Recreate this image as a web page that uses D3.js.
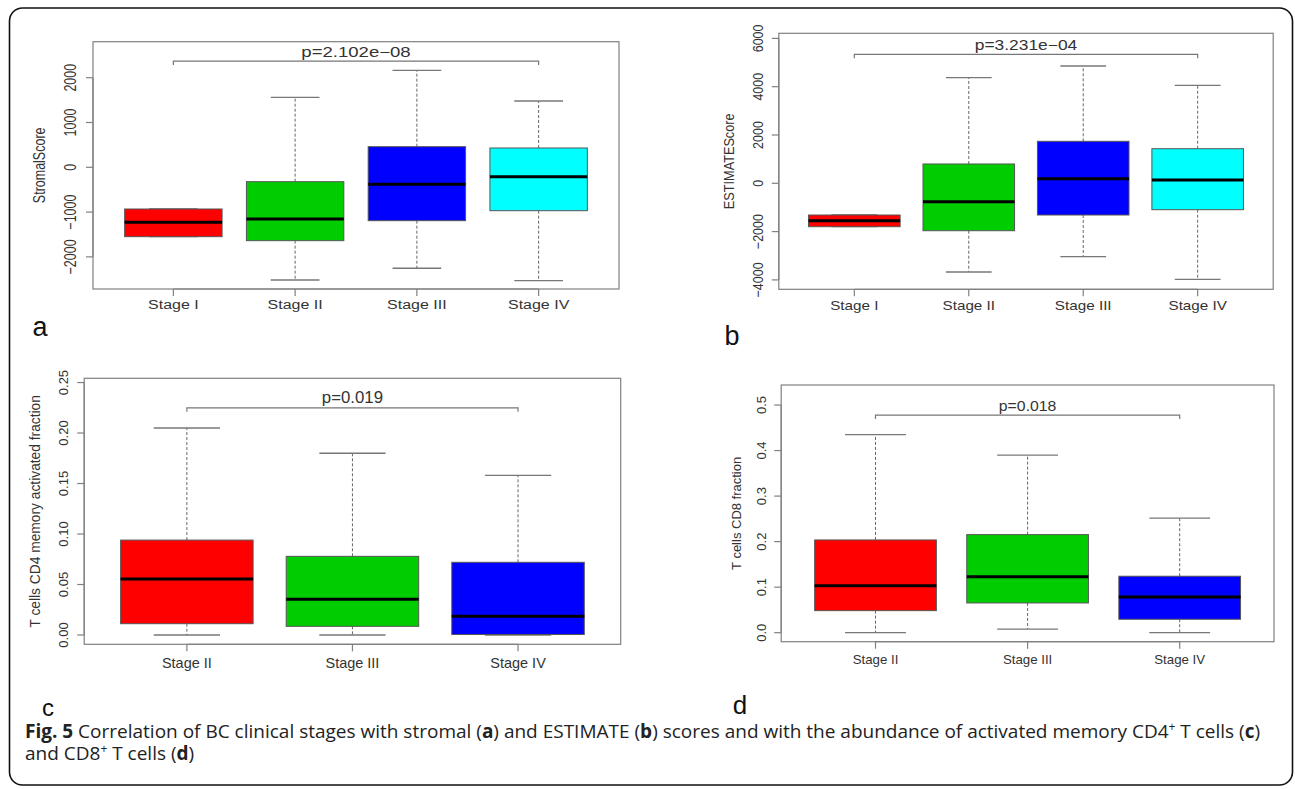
<!DOCTYPE html>
<html>
<head>
<meta charset="utf-8">
<script src="https://cdn.jsdelivr.net/npm/d3@7"></script>
<style>
  html, body { margin: 0; padding: 0; background: #fff; }
  svg { display: block; }
</style>
</head>
<body>
<script>
// ---------------- DATA ----------------
const stagesAB = ["Stage I", "Stage II", "Stage III", "Stage IV"];
const stagesCD = ["Stage II", "Stage III", "Stage IV"];

// [lower whisker, Q1, median, Q3, upper whisker]
const stromalStats = [
  [-1549, -1549, -1228, -931, -931],
  [-2516, -1638, -1154, -321, 1562],
  [-2254, -1192, -379, 460, 2165],
  [-2531, -969, -210, 431, 1480]
];
const estimateStats = [
  [-1797, -1797, -1548, -1313, -1313],
  [-3673, -1963, -762, 800, 4373],
  [-3039, -1313, 190, 1739, 4857],
  [-3975, -1093, 137, 1433, 4058]
];
const cd4Stats = [
  [0, 0.0112, 0.0554, 0.094, 0.205],
  [0, 0.0086, 0.0353, 0.0779, 0.180],
  [0, 0.0005, 0.0185, 0.072, 0.158]
];
const cd8Stats = [
  [0, 0.0484, 0.1033, 0.2037, 0.435],
  [0.008, 0.0653, 0.123, 0.2154, 0.390],
  [0, 0.0295, 0.0785, 0.124, 0.2515]
];

const stromalTicks = [-2000, -1000, 0, 1000, 2000];
const estimateTicks = [-4000, -2000, 0, 2000, 4000, 6000];
const cd4Ticks = [0, 0.05, 0.10, 0.15, 0.20, 0.25];
const cd8Ticks = [0, 0.1, 0.2, 0.3, 0.4, 0.5];

const yTitles = ["StromalScore", "ESTIMATEScore", "T cells CD4 memory activated fraction", "T cells CD8 fraction"];
const pLabels = ["p=2.102e\u221208", "p=3.231e\u221204", "p=0.019", "p=0.018"];
const pBarLevels = [2372, 5342, 0.225, 0.478];
const panelLetters = ["a", "b", "c", "d"];

const colors4 = ["#ff0000", "#00cd00", "#0000ff", "#00ffff"];
const colors3 = ["#ff0000", "#00cd00", "#0000ff"];

// ---------------- LAYOUT ----------------
const W = 1295, H = 789;
const font = "'Liberation Sans', Arial, Helvetica, sans-serif";

const panels = [
  { cats: stagesAB, stats: stromalStats, ticks: stromalTicks, fmt: d => d3.format("d")(d).replace("-", "\u2212"),
    colors: colors4, left: 93, right: 619, top: 41.7, bottom: 289, yDom: [-2717, 2804],
    sx: 1.28, fs: 12.5, tfs: 12.5, pfs: 14.5, tickLabX: 70.5, titleX: 39.4, xLabY: 305,
    letter: { x: 40, y: 336, fs: 27 } },
  { cats: stagesAB, stats: estimateStats, ticks: estimateTicks, fmt: d => d3.format("d")(d).replace("-", "\u2212"),
    colors: colors4, left: 778.8, right: 1273.2, top: 33.3, bottom: 289.3, yDom: [-4389, 6211],
    sx: 1.2, fs: 12.7, tfs: 12.5, pfs: 14.5, tickLabX: 758.2, titleX: 728.2, xLabY: 305,
    letter: { x: 732, y: 345, fs: 27 } },
  { cats: stagesCD, stats: cd4Stats, ticks: cd4Ticks, fmt: d3.format(".2f"),
    colors: colors3, left: 84.2, right: 620.7, top: 378.3, bottom: 644.3, yDom: [-0.0092, 0.2542],
    sx: 1.05, fs: 13.8, tfs: 13, pfs: 16, tickLabX: 63, titleX: 35.3, xLabY: 662.7,
    letter: { x: 48, y: 716, fs: 24 } },
  { cats: stagesCD, stats: cd8Stats, ticks: cd8Ticks, fmt: d3.format(".1f"),
    colors: colors3, left: 781.2, right: 1274, top: 385, bottom: 641.7, yDom: [-0.0198, 0.544],
    sx: 1.02, fs: 13, tfs: 13, pfs: 15.5, tickLabX: 761, titleX: 736.4, xLabY: 659.3,
    letter: { x: 740, y: 714, fs: 26 } }
];

const svg = d3.select("body").append("svg")
  .attr("width", W).attr("height", H)
  .attr("viewBox", `0 0 ${W} ${H}`);

svg.append("rect").attr("width", W).attr("height", H).attr("fill", "#fff");

// outer rounded frame
svg.append("rect")
  .attr("x", 9.5).attr("y", 8).attr("width", 1283).attr("height", 777)
  .attr("rx", 13).attr("ry", 13)
  .attr("fill", "none").attr("stroke", "#111").attr("stroke-width", 1.6);

const frameCol = "#808080";
const textCol = "#333";

panels.forEach((p, i) => {
  const g = svg.append("g");
  const n = p.cats.length;
  const x = d3.scaleLinear().domain([0.5 - 0.04 * n, n + 0.5 + 0.04 * n]).range([p.left, p.right]);
  const y = d3.scaleLinear().domain(p.yDom).range([p.bottom, p.top]);
  const pos = d3.range(1, n + 1);

  // plot frame
  g.append("rect")
    .attr("x", p.left).attr("y", p.top)
    .attr("width", p.right - p.left).attr("height", p.bottom - p.top)
    .attr("fill", "none").attr("stroke", frameCol).attr("stroke-width", 1.2);

  // y axis ticks
  const yAxisG = g.append("g");
  yAxisG.append("line")
    .attr("x1", p.left).attr("x2", p.left)
    .attr("y1", y(d3.min(p.ticks))).attr("y2", y(d3.max(p.ticks)))
    .attr("stroke", frameCol).attr("stroke-width", 1.2);
  yAxisG.selectAll("line.tk").data(p.ticks).join("line").attr("class", "tk")
    .attr("x1", p.left).attr("x2", p.left - 7)
    .attr("y1", d => y(d)).attr("y2", d => y(d))
    .attr("stroke", frameCol).attr("stroke-width", 1.2);
  yAxisG.selectAll("text").data(p.ticks).join("text")
    .attr("transform", d => `translate(${p.tickLabX},${y(d)}) scale(${p.sx},1) rotate(-90)`)
    .attr("text-anchor", "middle").attr("dominant-baseline", "central")
    .attr("font-family", font).attr("font-size", p.tfs).attr("fill", textCol)
    .text(d => p.fmt(d));

  // y title
  g.append("text")
    .attr("transform", `translate(${p.titleX},${(p.top + p.bottom) / 2}) scale(${p.sx},1) rotate(-90)`)
    .attr("text-anchor", "middle").attr("dominant-baseline", "central")
    .attr("font-family", font).attr("font-size", p.fs).attr("fill", textCol)
    .text(yTitles[i]);

  // x axis ticks + labels
  g.append("line")
    .attr("x1", x(1)).attr("x2", x(n))
    .attr("y1", p.bottom).attr("y2", p.bottom)
    .attr("stroke", frameCol).attr("stroke-width", 1.2);
  g.selectAll("line.xt").data(pos).join("line").attr("class", "xt")
    .attr("x1", d => x(d)).attr("x2", d => x(d))
    .attr("y1", p.bottom).attr("y2", p.bottom + 7)
    .attr("stroke", frameCol).attr("stroke-width", 1.2);
  g.selectAll("text.xl").data(p.cats).join("text").attr("class", "xl")
    .attr("transform", (d, j) => `translate(${x(j + 1)},${p.xLabY}) scale(${p.sx},1)`)
    .attr("text-anchor", "middle").attr("dominant-baseline", "central")
    .attr("font-family", font).attr("font-size", p.fs).attr("fill", textCol)
    .text(d => d);

  // boxes
  p.stats.forEach((s, j) => {
    const cx = x(j + 1);
    const bw = x(1.4) - x(1);
    const sw = x(1.2) - x(1);
    const [lo, q1, med, q3, hi] = s;
    g.append("line").attr("x1", cx).attr("x2", cx).attr("y1", y(q3)).attr("y2", y(hi))
      .attr("stroke", "#666").attr("stroke-width", 1).attr("stroke-dasharray", "3,2");
    g.append("line").attr("x1", cx).attr("x2", cx).attr("y1", y(q1)).attr("y2", y(lo))
      .attr("stroke", "#666").attr("stroke-width", 1).attr("stroke-dasharray", "3,2");
    [lo, hi].forEach(v => {
      g.append("line").attr("x1", cx - sw).attr("x2", cx + sw).attr("y1", y(v)).attr("y2", y(v))
        .attr("stroke", "#777").attr("stroke-width", 1.3);
    });
    g.append("rect")
      .attr("x", cx - bw).attr("y", y(q3))
      .attr("width", 2 * bw).attr("height", y(q1) - y(q3))
      .attr("fill", p.colors[j]).attr("stroke", "#555").attr("stroke-width", 1);
    g.append("line").attr("x1", cx - bw).attr("x2", cx + bw).attr("y1", y(med)).attr("y2", y(med))
      .attr("stroke", "#000").attr("stroke-width", 3);
  });

  // p-value bracket
  const by = y(pBarLevels[i]);
  const x1 = x(1), x2 = x(n);
  g.append("path")
    .attr("d", `M${x1},${by + 4}V${by}H${x2}V${by + 4}`)
    .attr("fill", "none").attr("stroke", "#777").attr("stroke-width", 1.2);
  g.append("text")
    .attr("transform", `translate(${(x1 + x2) / 2},${by - 4.5}) scale(${p.sx},1)`)
    .attr("text-anchor", "middle")
    .attr("font-family", font).attr("font-size", p.pfs).attr("fill", textCol)
    .text(pLabels[i]);

  // panel letter
  svg.append("text")
    .attr("x", p.letter.x).attr("y", p.letter.y)
    .attr("text-anchor", "middle")
    .attr("font-family", font).attr("font-size", p.letter.fs).attr("fill", "#111")
    .text(panelLetters[i]);
});

// ---------------- CAPTION ----------------
const capFont = "'Open Sans', 'Noto Sans', sans-serif";
const capFs = 19;
function addLine(y, parts) {
  const t = svg.append("text").attr("x", 25).attr("y", y)
    .attr("font-family", capFont).attr("font-size", capFs).attr("fill", "#222");
  parts.forEach(pt => {
    const ts = t.append("tspan").text(pt.t);
    if (pt.b) ts.attr("font-weight", "bold");
    if (pt.sup) ts.attr("font-size", 12).attr("dy", -7);
    if (pt.after) ts.attr("dy", 7);
  });
}
addLine(738, [
  { t: "Fig. 5", b: true },
  { t: " Correlation of BC clinical stages with stromal (" },
  { t: "a", b: true },
  { t: ") and ESTIMATE (" },
  { t: "b", b: true },
  { t: ") scores and with the abundance of activated memory CD4" },
  { t: "+", sup: true },
  { t: " T cells (", after: true },
  { t: "c", b: true },
  { t: ")" }
]);
addLine(760, [
  { t: "and CD8" },
  { t: "+", sup: true },
  { t: " T cells (", after: true },
  { t: "d", b: true },
  { t: ")" }
]);
</script>
</body>
</html>
